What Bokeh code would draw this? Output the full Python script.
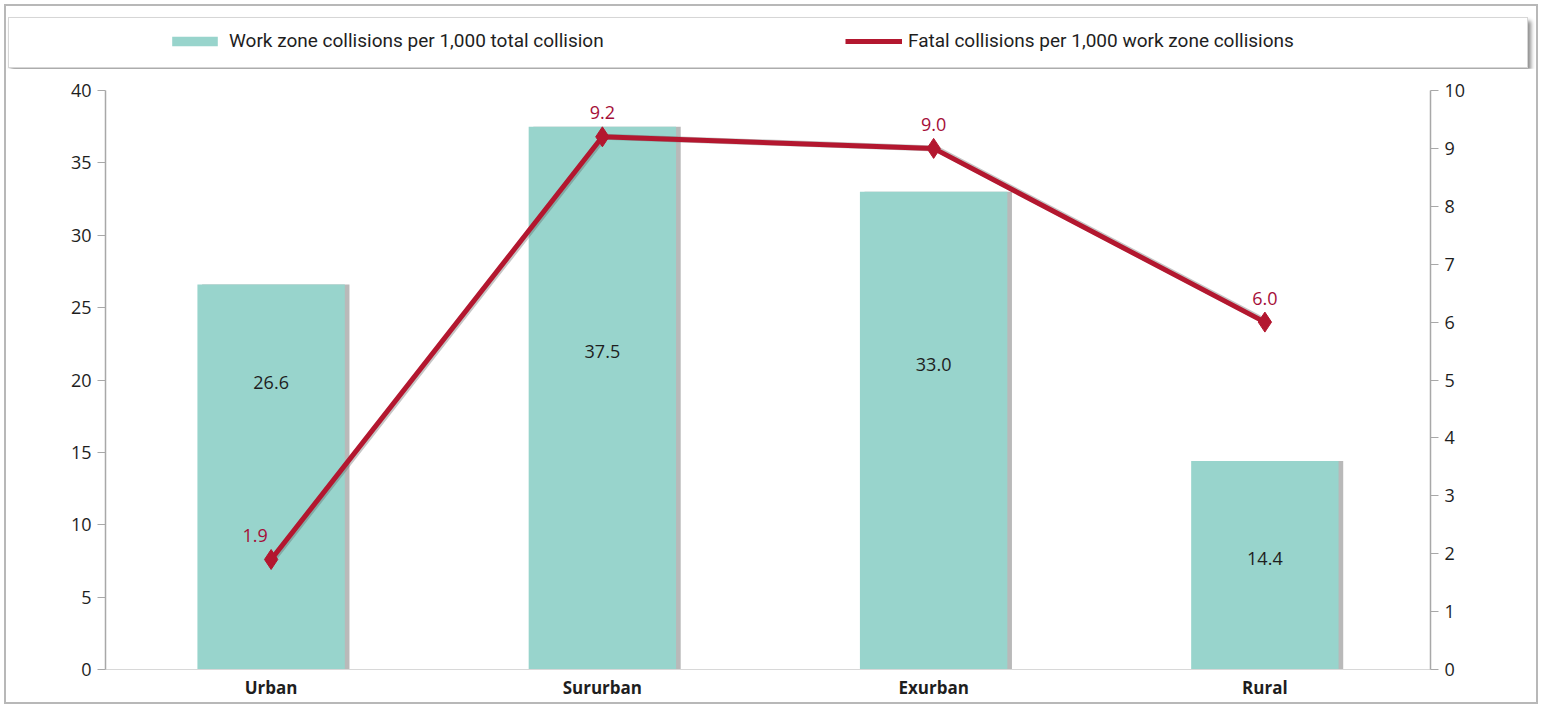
from bokeh.plotting import figure
from bokeh.layouts import column
from bokeh.models import (ColumnDataSource, Range1d, LinearAxis, FixedTicker, Legend, LegendItem,
                          FactorRange)
from bokeh.transform import dodge
from bokeh.core.properties import value
from bokeh.embed import file_html
from bokeh.resources import INLINE

# ---- data ----
categories = ["Urban", "Sururban", "Exurban", "Rural"]
work_zone_per_1000 = [26.6, 37.5, 33.0, 14.4]
fatal_per_1000_wz = [1.9, 9.2, 9.0, 6.0]
bar_label_pos = [19.8, 22.0, 21.1, 7.7]
left_ticks = [0, 5, 10, 15, 20, 25, 30, 35, 40]
right_ticks = [0, 1, 2, 3, 4, 5, 6, 7, 8, 9, 10]
series_names = ["Work zone collisions per 1,000 total collision",
                "Fatal collisions per 1,000 work zone collisions"]

FONT = "Open Sans"
NARROW = "Roboto"
BAR = "#98D4CC"
RED = "#B3172F"
LBLRED = "#A50E38"
AX = "#a8a8a8"

src = ColumnDataSource(dict(
    cat=categories,
    wz=work_zone_per_1000,
    fatal=fatal_per_1000_wz,
    wz_lbl=[f"{v:.1f}" for v in work_zone_per_1000],
    fatal_lbl=[f"{v:.1f}" for v in fatal_per_1000_wz],
    lbl_y=bar_label_pos,
    fx_off=[-16, 0, 0, 0],
))

# ---------------- main chart ----------------
p = figure(width=1530, height=634, x_range=FactorRange(*categories, range_padding=0),
           y_range=Range1d(0, 40), output_backend="svg", toolbar_location=None,
           min_border_left=99, min_border_right=106, min_border_top=22, min_border_bottom=33,
           background_fill_color="white", border_fill_color="white")
p.outline_line_color = None
p.xgrid.grid_line_color = None
p.ygrid.grid_line_color = None
p.extra_y_ranges = {"right": Range1d(0, 10)}

# bars with right-side shadow
p.vbar(x=dodge("cat", 0.014, range=p.x_range), top="wz", width=0.445, source=src,
       fill_color="#8a8a8a", fill_alpha=0.6, line_color=None)
bars = p.vbar(x="cat", top="wz", width=0.445, source=src, fill_color=BAR, line_color=None)

p.text(x="cat", y="lbl_y", text="wz_lbl", source=src, text_align="center", text_baseline="middle",
       text_font=value(FONT), text_font_size="18px", text_color="#1e1e1e")

# line on right axis
p.line(x=dodge("cat", 0.006, range=p.x_range), y="fatal", source=src, y_range_name="right",
       line_color="#5a5a5a", line_alpha=0.35, line_width=6)
ln = p.line(x="cat", y="fatal", source=src, y_range_name="right", line_color=RED, line_width=5,
            line_join="miter")
mk = p.scatter(x="cat", y="fatal", source=src, y_range_name="right", marker="diamond", size=20,
               fill_color=RED, line_color=RED)
p.text(x="cat", y="fatal", text="fatal_lbl", source=src, y_range_name="right", x_offset="fx_off",
       y_offset=-24, text_align="center", text_baseline="middle", text_font=value(FONT),
       text_font_size="18px", text_color=LBLRED)

# axes
p.xaxis.axis_line_color = "#d8d8d8"
p.xaxis.major_tick_line_color = None
p.xaxis.minor_tick_line_color = None
p.xaxis.major_label_text_font = FONT
p.xaxis.major_label_text_font_size = "17px"
p.xaxis.major_label_text_font_style = "bold"
p.xaxis.major_label_text_color = "#1e1e1e"
p.xaxis.major_label_standoff = 0

p.yaxis.ticker = FixedTicker(ticks=left_ticks)
ax_r = LinearAxis(y_range_name="right", ticker=FixedTicker(ticks=right_ticks))
p.add_layout(ax_r, "right")
for ax in (p.yaxis[0], ax_r):
    ax.axis_line_color = AX
    ax.axis_line_width = 1.5
    ax.major_tick_line_color = AX
    ax.major_tick_out = 8
    ax.major_tick_in = 0
    ax.minor_tick_line_color = None
    ax.major_label_text_font = FONT
    ax.major_label_text_font_size = "18px"
    ax.major_label_text_color = "#1e1e1e"
    ax.major_label_standoff = 6

# ---------------- legend strip ----------------
lg = figure(width=1520, height=51, x_range=Range1d(0, 1), y_range=Range1d(1000, 1001),
            output_backend="svg", toolbar_location=None, x_axis_location=None, y_axis_location=None,
            min_border=0, background_fill_color="white", border_fill_color="white",
            margin=(11, 0, 0, 2),
            styles={"border": "1px solid #d6d6d6", "box-shadow": "3px 4px 4px rgba(0,0,0,0.45)"})
lg.outline_line_color = None
lg.grid.grid_line_color = None
key_src = ColumnDataSource(dict(x=list(range(len(categories))), wz=work_zone_per_1000,
                                fatal=fatal_per_1000_wz))
k_bar = lg.vbar(x="x", top="wz", width=0.1, source=key_src, fill_color=BAR, line_color=None)
k_ln = lg.line(x="x", y="fatal", source=key_src, line_color=RED, line_width=5)
k_mk = lg.scatter(x="x", y="fatal", source=key_src, marker="diamond", size=14,
                  fill_color=RED, line_color=RED)
legend = Legend(items=[
    LegendItem(label=series_names[0], renderers=[k_bar]),
    LegendItem(label=series_names[1], renderers=[k_ln, k_mk]),
], orientation="horizontal", location=(58, 17), padding=0, margin=0, spacing=216,
    glyph_width=57, glyph_height=12, label_width=400, label_standoff=6,
    label_text_font=NARROW, label_text_font_size="19px", label_text_color="#1e1e1e",
    background_fill_alpha=0, border_line_color=None)
lg.add_layout(legend, "center")

layout = column(lg, p, spacing=0, margin=(4, 0, 0, 4),
                styles={"border": "2px solid #b8b8b8", "background-color": "white"})

open("out.html", "w").write(file_html(layout, INLINE))
